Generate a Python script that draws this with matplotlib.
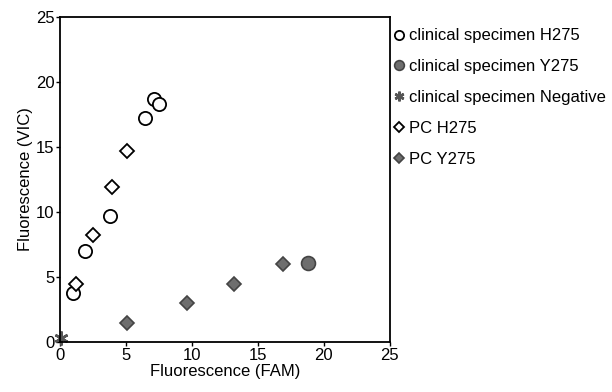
import matplotlib
matplotlib.use("Agg")
import matplotlib.pyplot as plt

plt.rcParams['font.family'] = ['Liberation Sans', 'DejaVu Sans']

clin_h275_x = [1.0, 1.9, 3.8, 6.45, 7.1, 7.5]
clin_h275_y = [3.8, 7.0, 9.7, 17.2, 18.7, 18.3]
clin_y275_x = [18.8]
clin_y275_y = [6.1]
clin_neg_x = [0.1]
clin_neg_y = [0.3]
pc_h275_x = [1.25, 2.5, 3.95, 5.1]
pc_h275_y = [4.5, 8.25, 11.9, 14.7]
pc_y275_x = [5.1, 9.65, 13.2, 16.9]
pc_y275_y = [1.5, 3.05, 4.5, 6.0]

labels = ["clinical specimen H275", "clinical specimen Y275",
          "clinical specimen Negative", "PC H275", "PC Y275"]

fig = plt.figure(figsize=(6.12, 3.92), dpi=100)
ax = fig.add_axes([0.098, 0.127, 0.539, 0.83])

grey = "#6e6e6e"
ax.plot(clin_h275_x, clin_h275_y, 'o', ms=9.5, mfc='white', mec='black', mew=1.3, label=labels[0], clip_on=False)
ax.plot(clin_y275_x, clin_y275_y, 'o', ms=10, mfc=grey, mec='#444444', mew=1.2, label=labels[1], clip_on=False)
ax.plot(clin_neg_x, clin_neg_y, marker=(6, 2, 0), ls='none', ms=10, mec='#555555', mew=1.8, label=labels[2], clip_on=False)
ax.plot(pc_h275_x, pc_h275_y, 'D', ms=7, mfc='white', mec='black', mew=1.3, label=labels[3], clip_on=False)
ax.plot(pc_y275_x, pc_y275_y, 'D', ms=7, mfc=grey, mec='#444444', mew=1.2, label=labels[4], clip_on=False)

ax.set_xlim(0, 25)
ax.set_ylim(0, 25)
ax.set_xticks([0, 5, 10, 15, 20, 25])
ax.set_yticks([0, 5, 10, 15, 20, 25])
ax.tick_params(direction='out', length=3, width=1, labelsize=12, pad=1)
for s in ax.spines.values():
    s.set_linewidth(1.3)
ax.set_xlabel("Fluorescence (FAM)", fontsize=12, labelpad=1)
ax.set_ylabel("Fluorescence (VIC)", fontsize=12, labelpad=2)

leg = ax.legend(loc='upper left', bbox_to_anchor=(0.99, 0.99), frameon=False,
                fontsize=12, handlelength=0.5, handletextpad=0.35,
                labelspacing=0.95, markerscale=0.7, borderaxespad=0.1)

fig.savefig("out.png", dpi=100)
